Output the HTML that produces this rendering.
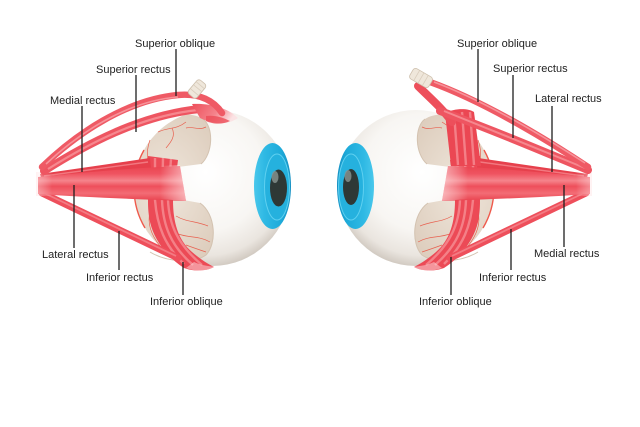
<!DOCTYPE html>
<html><head><meta charset="utf-8"><style>
html,body{margin:0;padding:0;background:#fff;}
svg{display:block;}
text{font-family:"Liberation Sans",Arial,sans-serif;font-size:11px;fill:#222;}
</style></head><body>
<svg width="640" height="427" viewBox="0 0 640 427" xmlns="http://www.w3.org/2000/svg">
<defs>
  <radialGradient id="eg" cx="0.46" cy="0.4" r="0.62">
    <stop offset="0" stop-color="#ffffff"/>
    <stop offset="0.6" stop-color="#f8f6f3"/>
    <stop offset="0.86" stop-color="#eae5df"/>
    <stop offset="1" stop-color="#cdc5bc"/>
  </radialGradient>
  <radialGradient id="bgL" cx="0.55" cy="0.5" r="0.6">
    <stop offset="0" stop-color="#efe6db"/>
    <stop offset="1" stop-color="#ddcdbd"/>
  </radialGradient>
  <linearGradient id="band" x1="0" y1="0" x2="0" y2="1">
    <stop offset="0" stop-color="#ea4450"/>
    <stop offset="0.22" stop-color="#ef5360"/>
    <stop offset="0.42" stop-color="#f5848b"/>
    <stop offset="0.58" stop-color="#ee4f5b"/>
    <stop offset="0.78" stop-color="#f36c75"/>
    <stop offset="1" stop-color="#e8414d"/>
  </linearGradient>
  <linearGradient id="fadeR" x1="0" y1="0" x2="1" y2="0">
    <stop offset="0" stop-color="#fff" stop-opacity="0"/>
    <stop offset="1" stop-color="#ffe6e7" stop-opacity="0.6"/>
  </linearGradient>
  <linearGradient id="fadeL" x1="1" y1="0" x2="0" y2="0">
    <stop offset="0" stop-color="#fff" stop-opacity="0"/>
    <stop offset="1" stop-color="#ffdfe1" stop-opacity="0.45"/>
  </linearGradient>
  <linearGradient id="ins" x1="0" y1="0" x2="1" y2="0.3">
    <stop offset="0" stop-color="#ee4f5b"/>
    <stop offset="0.6" stop-color="#f4838b"/>
    <stop offset="1" stop-color="#fbe3e4"/>
  </linearGradient>
  <linearGradient id="irisL" gradientUnits="userSpaceOnUse" x1="253" y1="0" x2="291" y2="0">
    <stop offset="0" stop-color="#4cc9ec"/>
    <stop offset="0.3" stop-color="#2fb9e4"/>
    <stop offset="0.75" stop-color="#1eaad9"/>
    <stop offset="1" stop-color="#1590c3"/>
  </linearGradient>
  <linearGradient id="irisR" gradientUnits="userSpaceOnUse" x1="375" y1="0" x2="337" y2="0">
    <stop offset="0" stop-color="#4cc9ec"/>
    <stop offset="0.3" stop-color="#2fb9e4"/>
    <stop offset="0.75" stop-color="#1eaad9"/>
    <stop offset="1" stop-color="#1590c3"/>
  </linearGradient>
  <clipPath id="sphL"><circle cx="212" cy="188" r="78"/></clipPath>
</defs>

<g id="common">
  <circle cx="212" cy="188" r="78" fill="url(#eg)"/>
  <path clip-path="url(#sphL)" fill="url(#bgL)" d="M203,119 C214,127 213,154 201,164 L178,167 L178,199 L200,203 C216,214 217,244 206,255 C195,263 168,263 150,252 L110,240 L110,130 L160,119 C178,113 194,113 203,119 Z"/>
  <path fill="none" stroke="#d3c2b0" stroke-width="1" d="M203,119 C214,127 213,154 201,164 M200,203 C216,214 217,244 206,255 C195,263 168,263 150,252"/>
  <path fill="none" stroke="#ef5a4c" stroke-width="1.4" d="M144,150 A78,78 0 0 0 145,228"/>
  <g fill="none" stroke="#e8604f" stroke-width="0.7">
    <path d="M158,132 C168,127 176,130 186,122"/>
    <path d="M172,128 C176,136 171,142 166,148"/>
    <path d="M186,128 C194,126 198,131 206,127"/>
    <path d="M150,140 C146,150 148,158 147,165"/>
    <path d="M176,216 C186,222 196,221 208,226"/>
    <path d="M178,234 C190,238 200,236 210,242"/>
    <path d="M150,212 C147,224 152,236 160,246"/>
    <path d="M186,245 C194,248 200,250 206,252"/>
  </g>
  <!-- inferior oblique -->
  <path fill="#ec4a56" d="M148,156 L178,160 L173,200 C173,222 178,240 192,252 C200,259 208,264 214,267 C205,272 192,271 184,268 C168,258 154,240 150,222 C148,212 148,205 148,200 Z"/>
  <g fill="none" stroke="#f5868d" stroke-width="2.4" opacity="0.9">
    <path d="M155,158 L155,200 C157,226 165,246 184,264"/>
    <path d="M163,158 L162,200 C163,226 171,246 193,265"/>
    <path d="M171,159 L168,200 C169,224 177,244 202,265"/>
  </g>
  <path fill="#fbe0e1" opacity="0.5" d="M194,262 C203,266 210,266 214,267 C205,272 194,271 186,268 Z"/>
  <!-- inferior rectus -->
  <path d="M42,193 L178,258" stroke="#ee4f5b" stroke-width="7" stroke-linecap="round"/>
  <path d="M44,193 L176,256" stroke="#f5878e" stroke-width="1.8" opacity="0.8"/>
  <!-- medial (upper thin) band -->
  <path fill="#e6404c" d="M40,174 L150,158 L151,168 L42,181 Z"/>
  <path d="M44,176 L148,162" stroke="#f27880" stroke-width="1.4"/>
  <!-- main horizontal band -->
  <path fill="url(#band)" d="M38,177 C80,173 130,168 180,166 L186,201 C130,199 80,197 38,194 Z"/>
  <path fill="url(#fadeR)" d="M160,166 L180,165 L186,201 L160,199 Z"/>
  <path fill="url(#fadeL)" d="M36,172 L52,172 L52,196 L36,196 Z"/>
</g>
<use href="#common" transform="translate(628,0) scale(-1,1)"/>

<!-- LEFT upper muscles -->
<path d="M44,171 C85,145 140,115 200,109" fill="none" stroke="#ee5561" stroke-width="8" stroke-linecap="round"/>
<path d="M48,169 C88,144 140,116 198,110" fill="none" stroke="#f6878e" stroke-width="2.2"/>
<path fill="url(#ins)" d="M192,104 C210,103 228,108 238,118 C228,125 214,125 200,118 Z"/>
<path fill="#ec4c58" opacity="0.8" d="M206,116 C214,115 222,117 230,121 C222,125 212,124 206,121 Z"/>
<path d="M42,167 C75,135 125,100 178,95 C200,93 214,101 222,113" fill="none" stroke="#ef5a65" stroke-width="6.5" stroke-linecap="round"/>
<path d="M46,164 C78,134 126,101 178,97" fill="none" stroke="#f6939a" stroke-width="1.6"/>
<g transform="translate(197,89) rotate(-50)">
  <rect x="-9" y="-5.5" width="18" height="11" rx="3" fill="#efe7db" stroke="#cdbfac" stroke-width="0.8"/>
  <path d="M-4,-5 L-4,5 M1,-5 L1,5 M5,-5 L5,5" stroke="#d9cdbd" stroke-width="0.8"/>
</g>

<!-- RIGHT upper muscles -->
<path fill="#eb4753" d="M445,113 C455,108 468,108 474,112 L481,166 L451,166 Z"/>
<g stroke="#f5868d" stroke-width="2.4" opacity="0.9" fill="none">
  <path d="M454,113 L458,165"/>
  <path d="M462,112 L466,165"/>
  <path d="M470,112 L474,165"/>
</g>
<path d="M418,86 C430,98 442,108 452,122" fill="none" stroke="#ed4f5b" stroke-width="8" stroke-linecap="round"/>
<path d="M440,111 C480,125 540,150 588,170" fill="none" stroke="#ee5561" stroke-width="8" stroke-linecap="round"/>
<path d="M444,111 C482,126 540,150 585,168" fill="none" stroke="#f6878e" stroke-width="2"/>
<path d="M430,82 C480,100 540,135 588,167" fill="none" stroke="#ef5a65" stroke-width="6.5" stroke-linecap="round"/>
<path d="M434,82 C482,100 540,134 585,163" fill="none" stroke="#f6939a" stroke-width="1.6"/>
<g transform="translate(421,78) rotate(30)">
  <rect x="-11" y="-6" width="22" height="12" rx="3" fill="#efe7db" stroke="#cdbfac" stroke-width="0.8"/>
  <path d="M-5,-6 L-5,6 M0,-6 L0,6 M5,-6 L5,6" stroke="#d9cdbd" stroke-width="0.8"/>
</g>

<!-- irises -->
<ellipse cx="272.5" cy="186" rx="18.5" ry="43" fill="url(#irisL)"/>
<ellipse cx="277" cy="187" rx="12.5" ry="33" fill="#25b1de" stroke="#5fd0f0" stroke-width="1"/>
<ellipse cx="278.5" cy="188" rx="8.5" ry="18.5" fill="#2e3836"/>
<ellipse cx="275" cy="177" rx="3.5" ry="6" fill="#8a9694" opacity="0.8"/>

<ellipse cx="355.5" cy="186" rx="18.5" ry="43" fill="url(#irisR)"/>
<ellipse cx="351" cy="187" rx="12.5" ry="33" fill="#25b1de" stroke="#5fd0f0" stroke-width="1"/>
<ellipse cx="351" cy="187" rx="8" ry="18" fill="#2e3836"/>
<ellipse cx="348" cy="176" rx="3.5" ry="6" fill="#8a9694" opacity="0.8"/>

<!-- pointer lines -->
<g stroke="#1e1e1e" stroke-width="1.3">
  <path d="M176,49 L176,96"/>
  <path d="M136,75 L136,132"/>
  <path d="M82,106 L82,172"/>
  <path d="M74,185 L74,248"/>
  <path d="M119,231 L119,270"/>
  <path d="M183,262 L183,295"/>
  <path d="M478,49 L478,102"/>
  <path d="M513,75 L513,138"/>
  <path d="M552,106 L552,172"/>
  <path d="M564,185 L564,247"/>
  <path d="M511,229 L511,270"/>
  <path d="M451,257 L451,295"/>
</g>

<!-- labels -->
<text x="135" y="47">Superior oblique</text>
<text x="96" y="73">Superior rectus</text>
<text x="50" y="104">Medial rectus</text>
<text x="42" y="258">Lateral rectus</text>
<text x="86" y="281">Inferior rectus</text>
<text x="150" y="305">Inferior oblique</text>

<text x="457" y="47">Superior oblique</text>
<text x="493" y="72">Superior rectus</text>
<text x="535" y="102">Lateral rectus</text>
<text x="534" y="257">Medial rectus</text>
<text x="479" y="281">Inferior rectus</text>
<text x="419" y="305">Inferior oblique</text>
</svg>
</body></html>
